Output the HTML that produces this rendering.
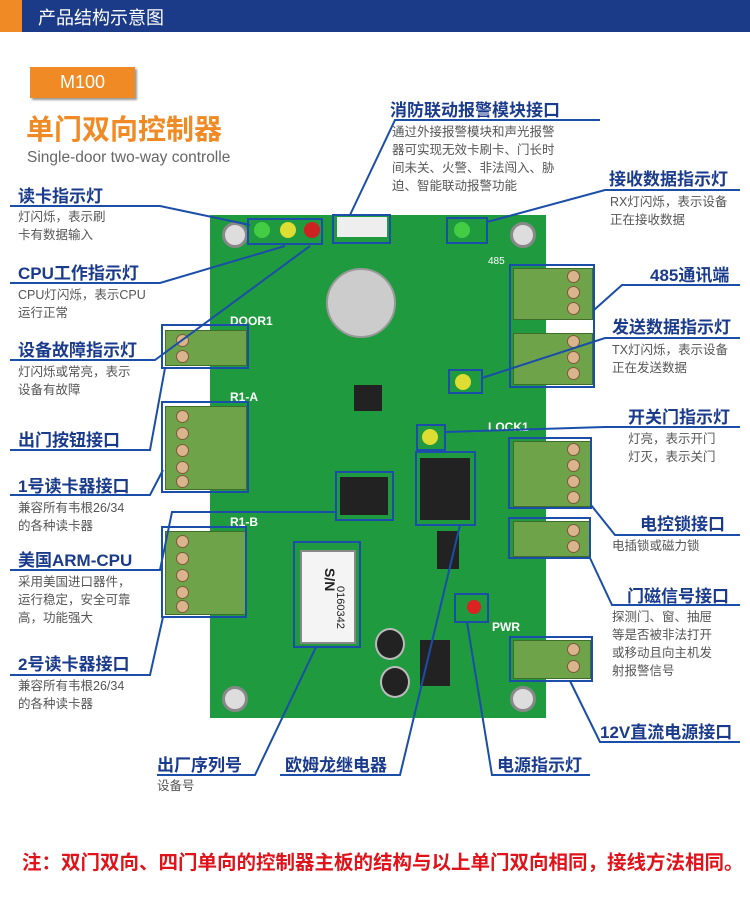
<!DOCTYPE html>
<html><head><meta charset="utf-8"><style>
body{margin:0;width:750px;height:897px;background:#fff;position:relative;overflow:hidden;font-family:"Liberation Sans","Noto Sans CJK SC",sans-serif}
.a{position:absolute;white-space:nowrap}
.l{position:absolute;white-space:nowrap;color:#1a3a8c;font-size:17px;font-weight:bold}
.d{position:absolute;white-space:nowrap;color:#555;font-size:12.5px;line-height:18px}
.tb{position:absolute;background:#6fa34a;border:1px solid #3e6e2a}
.scr{position:absolute;width:11px;height:11px;border-radius:50%;background:#d9b48c;border:1px solid #7a5a3a}
.hole{position:absolute;width:20px;height:20px;border-radius:50%;background:#ddd;border:3px solid #888}
.chip{position:absolute;background:#222}
</style></head><body>
<div class="a" style="left:0;top:0;width:750px;height:32px;background:#1b3a87"></div>
<div class="a" style="left:0;top:0;width:22px;height:32px;background:#f08a24"></div>
<div class="a" style="left:38px;top:4px;color:#fff;font-size:18px">产品结构示意图</div>
<div class="a" style="left:30px;top:67px;width:105px;height:31px;background:#f08a24;box-shadow:2px 2px 2px #999;color:#fff;font-size:18px;text-align:center;line-height:31px">M100</div>
<div class="a" style="left:26px;top:112px;color:#f08a24;font-size:28px;line-height:36px;font-weight:bold">单门双向控制器</div>
<div class="a" style="left:27px;top:149px;color:#666;font-size:15.5px;line-height:18px">Single-door two-way controlle</div>

<!-- PCB -->
<div class="a" style="left:210px;top:215px;width:336px;height:503px;background:#1f9a3f"></div>
<div class="hole" style="left:222px;top:222px"></div><div class="hole" style="left:510px;top:222px"></div>
<div class="hole" style="left:222px;top:686px"></div><div class="hole" style="left:510px;top:686px"></div>
<div class="a" style="left:254px;top:222px;width:16px;height:16px;border-radius:50%;background:#4c4"></div>
<div class="a" style="left:280px;top:222px;width:16px;height:16px;border-radius:50%;background:#dd3"></div>
<div class="a" style="left:304px;top:222px;width:16px;height:16px;border-radius:50%;background:#c22"></div>
<div class="a" style="left:454px;top:222px;width:16px;height:16px;border-radius:50%;background:#4c4"></div>
<div class="a" style="left:455px;top:374px;width:16px;height:16px;border-radius:50%;background:#dd3"></div>
<div class="a" style="left:422px;top:429px;width:16px;height:16px;border-radius:50%;background:#dd3"></div>
<div class="a" style="left:467px;top:600px;width:14px;height:14px;border-radius:50%;background:#d22"></div>
<div class="a" style="left:337px;top:217px;width:50px;height:20px;background:#eee"></div>
<div class="a" style="left:326px;top:268px;width:66px;height:66px;border-radius:50%;background:#ccc;border:2px solid #999"></div>
<div class="chip" style="left:340px;top:477px;width:48px;height:38px"></div>
<div class="chip" style="left:420px;top:458px;width:50px;height:62px"></div>
<div class="chip" style="left:354px;top:385px;width:28px;height:26px"></div>
<div class="chip" style="left:437px;top:531px;width:22px;height:38px"></div>
<div class="a" style="left:300px;top:550px;width:52px;height:90px;background:#f4f4f4;border:2px solid #888"></div>
<div class="a" style="top:568px;font-size:14px;font-weight:bold;transform:rotate(90deg);transform-origin:left top;left:338px;color:#222">S/N</div>
<div class="a" style="top:586px;font-size:11px;transform:rotate(90deg);transform-origin:left top;left:346px;color:#222">0160342</div>
<div class="a" style="left:375px;top:628px;width:26px;height:28px;border-radius:50%;background:#222;border:2px solid #bbb"></div>
<div class="a" style="left:380px;top:666px;width:26px;height:28px;border-radius:50%;background:#222;border:2px solid #bbb"></div>
<div class="chip" style="left:420px;top:640px;width:30px;height:46px"></div>
<div class="a" style="left:230px;top:314px;color:#fff;font-size:12px;font-weight:bold">DOOR1</div>
<div class="a" style="left:230px;top:390px;color:#fff;font-size:12px;font-weight:bold">R1-A</div>
<div class="a" style="left:230px;top:515px;color:#fff;font-size:12px;font-weight:bold">R1-B</div>
<div class="a" style="left:488px;top:420px;color:#fff;font-size:12px;font-weight:bold">LOCK1</div>
<div class="a" style="left:492px;top:620px;color:#fff;font-size:12px;font-weight:bold">PWR</div>
<div class="a" style="left:488px;top:256px;color:#fff;font-size:10px">485</div>
<!-- terminal blocks -->
<div class="tb" style="left:165px;top:330px;width:80px;height:34px"></div>
<div class="tb" style="left:165px;top:406px;width:80px;height:82px"></div>
<div class="tb" style="left:165px;top:531px;width:80px;height:82px"></div>
<div class="tb" style="left:513px;top:268px;width:78px;height:50px"></div>
<div class="tb" style="left:513px;top:333px;width:78px;height:50px"></div>
<div class="tb" style="left:513px;top:441px;width:76px;height:64px"></div>
<div class="tb" style="left:513px;top:521px;width:76px;height:34px"></div>
<div class="tb" style="left:513px;top:640px;width:76px;height:37px"></div>
<div class="scr" style="left:176px;top:334px"></div><div class="scr" style="left:176px;top:350px"></div>
<div class="scr" style="left:176px;top:410px"></div><div class="scr" style="left:176px;top:427px"></div><div class="scr" style="left:176px;top:444px"></div><div class="scr" style="left:176px;top:461px"></div><div class="scr" style="left:176px;top:475px"></div>
<div class="scr" style="left:176px;top:535px"></div><div class="scr" style="left:176px;top:552px"></div><div class="scr" style="left:176px;top:569px"></div><div class="scr" style="left:176px;top:586px"></div><div class="scr" style="left:176px;top:600px"></div>
<div class="scr" style="left:567px;top:270px"></div><div class="scr" style="left:567px;top:286px"></div><div class="scr" style="left:567px;top:302px"></div>
<div class="scr" style="left:567px;top:335px"></div><div class="scr" style="left:567px;top:351px"></div><div class="scr" style="left:567px;top:367px"></div>
<div class="scr" style="left:567px;top:443px"></div><div class="scr" style="left:567px;top:459px"></div><div class="scr" style="left:567px;top:475px"></div><div class="scr" style="left:567px;top:491px"></div>
<div class="scr" style="left:567px;top:524px"></div><div class="scr" style="left:567px;top:540px"></div>
<div class="scr" style="left:567px;top:643px"></div><div class="scr" style="left:567px;top:660px"></div>

<svg class="a" style="left:0;top:0" width="750" height="897" fill="none" stroke="#1a4ea8" stroke-width="2">
<rect x="248" y="219" width="74" height="25"/><rect x="333" y="215" width="57" height="28"/><rect x="447" y="218" width="40" height="25"/>
<rect x="510" y="265" width="84" height="122"/><rect x="162" y="325" width="86" height="43"/><rect x="162" y="402" width="86" height="90"/>
<rect x="336" y="472" width="57" height="48"/><rect x="416" y="452" width="59" height="73"/><rect x="449" y="370" width="33" height="23"/>
<rect x="417" y="425" width="28" height="25"/><rect x="509" y="438" width="82" height="70"/><rect x="509" y="518" width="81" height="40"/>
<rect x="162" y="527" width="84" height="90"/><rect x="294" y="542" width="66" height="105"/><rect x="455" y="594" width="33" height="28"/>
<rect x="510" y="637" width="82" height="44"/>
<polyline points="10,206 160,206 250,225"/><polyline points="10,283 160,283 285,246"/><polyline points="10,360 155,360 310,246"/>
<polyline points="10,450 150,450 165,368"/><polyline points="10,495 150,495 163,470"/><polyline points="10,570 160,570 172,512 336,512"/>
<polyline points="10,675 150,675 163,617"/><polyline points="157,775 255,775 316,647"/><polyline points="280,775 400,775 460,525"/>
<polyline points="590,775 492,775 467,622"/><polyline points="350,215 395,120 600,120"/><polyline points="487,222 605,190 740,190"/>
<polyline points="594,310 622,285 740,285"/><polyline points="482,378 605,338 740,338"/><polyline points="445,432 605,427 740,427"/>
<polyline points="591,505 615,535 740,535"/><polyline points="590,558 612,605 740,605"/><polyline points="570,681 600,742 740,742"/>
</svg>

<div class="l" style="left:18px;top:182px">读卡指示灯</div>
<div class="d" style="left:18px;top:208px">灯闪烁，表示刷<br>卡有数据输入</div>
<div class="l" style="left:18px;top:259px">CPU工作指示灯</div>
<div class="d" style="left:18px;top:286px">CPU灯闪烁，表示CPU<br>运行正常</div>
<div class="l" style="left:18px;top:336px">设备故障指示灯</div>
<div class="d" style="left:18px;top:363px">灯闪烁或常亮，表示<br>设备有故障</div>
<div class="l" style="left:18px;top:426px">出门按钮接口</div>
<div class="l" style="left:18px;top:472px">1号读卡器接口</div>
<div class="d" style="left:18px;top:499px">兼容所有韦根26/34<br>的各种读卡器</div>
<div class="l" style="left:18px;top:546px">美国ARM-CPU</div>
<div class="d" style="left:18px;top:573px">采用美国进口器件，<br>运行稳定，安全可靠<br>高，功能强大</div>
<div class="l" style="left:18px;top:650px">2号读卡器接口</div>
<div class="d" style="left:18px;top:677px">兼容所有韦根26/34<br>的各种读卡器</div>
<div class="l" style="left:157px;top:751px">出厂序列号</div>
<div class="d" style="left:157px;top:777px">设备号</div>
<div class="l" style="left:285px;top:751px">欧姆龙继电器</div>
<div class="l" style="left:497px;top:751px">电源指示灯</div>
<div class="l" style="left:390px;top:96px">消防联动报警模块接口</div>
<div class="d" style="left:392px;top:123px">通过外接报警模块和声光报警<br>器可实现无效卡刷卡、门长时<br>间未关、火警、非法闯入、胁<br>迫、智能联动报警功能</div>
<div class="l" style="left:609px;top:165px">接收数据指示灯</div>
<div class="d" style="left:610px;top:193px">RX灯闪烁，表示设备<br>正在接收数据</div>
<div class="l" style="left:650px;top:261px">485通讯端</div>
<div class="l" style="left:612px;top:313px">发送数据指示灯</div>
<div class="d" style="left:612px;top:341px">TX灯闪烁，表示设备<br>正在发送数据</div>
<div class="l" style="left:628px;top:403px">开关门指示灯</div>
<div class="d" style="left:628px;top:430px">灯亮，表示开门<br>灯灭，表示关门</div>
<div class="l" style="left:640px;top:510px">电控锁接口</div>
<div class="d" style="left:612px;top:537px">电插锁或磁力锁</div>
<div class="l" style="left:627px;top:582px">门磁信号接口</div>
<div class="d" style="left:612px;top:608px">探测门、窗、抽屉<br>等是否被非法打开<br>或移动且向主机发<br>射报警信号</div>
<div class="l" style="left:600px;top:718px">12V直流电源接口</div>
<div class="a" style="left:22px;top:846px;color:#e0121a;font-size:19.5px;font-weight:bold">注：双门双向、四门单向的控制器主板的结构与以上单门双向相同，接线方法相同。</div>
</body></html>
